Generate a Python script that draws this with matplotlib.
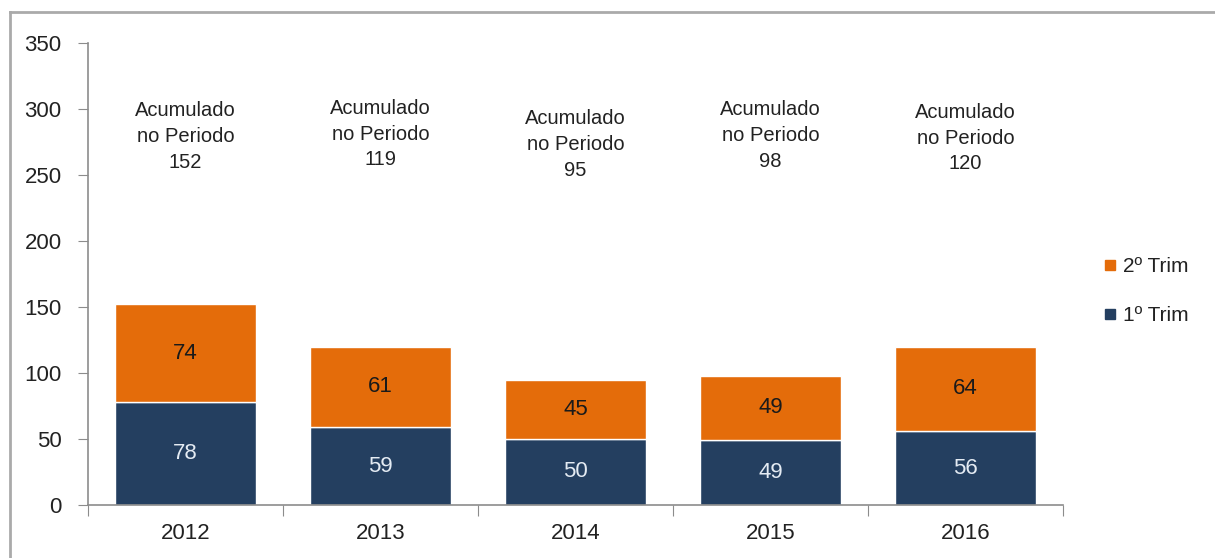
import matplotlib
matplotlib.use("Agg")
from matplotlib import pyplot as plt
from matplotlib.lines import Line2D

plt.rcParams['font.family'] = ['Liberation Sans', 'DejaVu Sans']

years = ["2012", "2013", "2014", "2015", "2016"]
trim1 = [78, 59, 50, 49, 56]
trim2 = [74, 61, 45, 49, 64]
acumulado = [152, 119, 95, 98, 120]

# vertical centre of each "Acumulado" note, in data units
note_y = [279, 281, 273, 280, 278]

navy = "#243f60"
orange = "#e46c0a"
grey = "#8c8c8c"

fig = plt.figure(figsize=(12.15, 5.58), dpi=100)
ax = fig.add_axes([0.0724, 0.095, 0.8025, 0.828])

x = range(len(years))
w = 0.72
ax.bar(x, trim1, width=w, color=navy, edgecolor="white", linewidth=1)
ax.bar(x, trim2, width=w, bottom=trim1, color=orange, edgecolor="white", linewidth=1)

for i in x:
    ax.text(i, trim1[i] / 2, str(trim1[i]), ha="center", va="center",
            color="#e4ebf3", fontsize=16)
    ax.text(i, trim1[i] + trim2[i] / 2, str(trim2[i]), ha="center", va="center",
            color="#1a1a1a", fontsize=16)
    ax.text(i, note_y[i], "Acumulado\nno Periodo\n%d" % acumulado[i], ha="center",
            va="center", color="#222222", fontsize=14.5, linespacing=1.45)

ax.set_xlim(-0.5, len(years) - 0.5)
ax.set_ylim(0, 350)
ax.set_yticks(range(0, 351, 50))
ax.set_xticks([i - 0.5 for i in range(len(years) + 1)], minor=False)
ax.set_xticklabels([""] * (len(years) + 1))
ax.set_xticks(list(x), minor=True)
ax.set_xticklabels(years, minor=True)
ax.tick_params(axis="x", which="major", length=8, color=grey, direction="out")
ax.tick_params(axis="x", which="minor", length=0, pad=13, labelsize=16, labelcolor="#222222")
ax.tick_params(axis="y", length=7, color=grey, labelsize=16, labelcolor="#222222", pad=12)

for s in ["top", "right"]:
    ax.spines[s].set_visible(False)
for s in ["left", "bottom"]:
    ax.spines[s].set_color(grey)
    ax.spines[s].set_linewidth(1.2)

handles = [Line2D([], [], marker="s", linestyle="none", color=orange, markersize=7),
           Line2D([], [], marker="s", linestyle="none", color=navy, markersize=7)]
fig.legend(handles, ["2º Trim", "1º Trim"], loc="center left",
           bbox_to_anchor=(0.888, 0.478), frameon=False, fontsize=15,
           handletextpad=0.0, handlelength=1.2, labelspacing=1.45,
           labelcolor="#222222")

# outer frame of the picture
fig.add_artist(Line2D([0.008, 0.008], [0, 0.978], color="#aaaaaa", linewidth=2))
fig.add_artist(Line2D([0.008, 1], [0.978, 0.978], color="#aaaaaa", linewidth=2))

fig.savefig("out.png", dpi=100)
